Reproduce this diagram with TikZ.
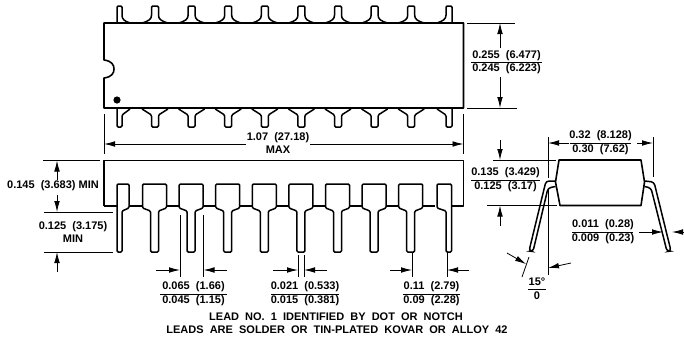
\documentclass[tikz,border=0pt]{standalone}
\usepackage{fontspec}
\setmainfont{Liberation Sans}
\usetikzlibrary{arrows.meta}

\begin{document}
\begin{tikzpicture}[
    x=1pt, y=-1pt,
    outline/.style={line width=1.6pt, line join=round},
    lead/.style={line width=1.5pt, rounded corners=1.2pt},
    dimline/.style={line width=.8pt},
    dimarrow/.style={dimline, -{Latex[length=11pt,width=5.6pt]}},
    dimtext/.style={inner sep=0pt, font=\bfseries\fontsize{11}{12}\selectfont},
    rule/.style={line width=1pt}
]
\useasboundingbox (0,0) rectangle (684,341);

% top view
\draw[outline] (104,23) -- (463.5,23) -- (463.5,108) -- (104,108) -- (104,78)
    .. controls (112,77) and (114,73) .. (114,69)
    .. controls (114,65) and (112,61) .. (104,60) -- cycle;
\fill (117,100) circle (3.6);
\draw[lead] (130,23) .. controls (124,21) and (122,19) .. (122,14) -- (122,6) -- (117,6) -- (117,23);
\draw[lead] (437,23) .. controls (443,21) and (446,19) .. (446,14) -- (446,6) -- (452,6) -- (452,23);
\draw[lead] (130,109) -- (122,115) -- (122,127) -- (117,127) -- (117,109);
\draw[lead] (437,109) -- (446,115) -- (446,127) -- (452,127) -- (452,109);
\foreach \n in {0,...,7} {
    \pgfmathsetmacro{\c}{155+36.6*\n}
    \draw[lead] (\c-13,23) .. controls (\c-6,21) and (\c-3.5,19) .. (\c-3.5,14) -- (\c-3.5,6) -- (\c+3.5,6) -- (\c+3.5,14) .. controls (\c+3.5,19) and (\c+6,21) .. (\c+13,23);
    \draw[lead] (\c-13,109) -- (\c-3.5,115) -- (\c-3.5,127) -- (\c+3.5,127) -- (\c+3.5,115) -- (\c+13,109);
}

% front view
\draw[outline] (104,206) -- (104,160.5) -- (463.5,160.5) -- (463.5,206) -- (451.5,206);
\draw[outline] (104,206) -- (117,206);
\draw[lead] (129,206) -- (129,184) -- (117,184) -- (117,252) -- (122,252) -- (122,211) -- (129,208) -- (129,206);
\draw[lead] (437,206) -- (437,184) -- (451.5,184) -- (451.5,252) -- (446,252) -- (446,211) -- (437,208) -- (437,206);
\draw[lead] (129,206) -- (142,206);
\foreach \n in {0,...,7} {
    \pgfmathsetmacro{\c}{154.5+36.6*\n}
    \draw[lead] (\c-12,206) -- (\c-12,184) -- (\c+12,184) -- (\c+12,206) -- (\c+12,208) -- (\c+4,211)
        -- (\c+4,252) -- (\c-4,252) -- (\c-4,211) -- (\c-12,208) -- cycle;
    \draw[lead] (\c+12,206) -- (\c+24.6,206);
}

% end view
\draw[outline] (559,160) -- (641,160) -- (644.5,182) -- (641,205.5) -- (560,205.5) -- (555.5,182) -- cycle;
\draw[lead, rounded corners=3pt] (555.5,181) -- (546,181) -- (529,251) -- (533,251.5) -- (548,188) -- (555.5,186.5);
\draw[lead, rounded corners=3pt] (644.5,181) -- (654,182) -- (671,251) -- (667,251.5) -- (651,188) -- (644.5,186.5);

% overall length
\draw[dimline] (104,114) -- (104,154);
\draw[dimline] (463.5,114) -- (463.5,154);
\draw[dimarrow] (246,144) -- (104,144);
\draw[dimarrow] (310,144) -- (463.5,144);
\node[dimtext] (lengthtop) at (278,138) {1.07\ \ (27.18)};
\node[dimtext] (lengthmax) at (278,149.5) {MAX};

% body width
\draw[dimline] (467,23) -- (515,23);
\draw[dimline] (467,108) -- (517,108);
\draw[dimarrow] (500,48) -- (500,23);
\draw[dimarrow] (500,77) -- (500,108);
\draw[rule] (471,62) -- (542,62);
\node[dimtext] (widthtop) at (506.5,55.5) {0.255\ \ (6.477)};
\node[dimtext] (widthbot) at (506.5,69) {0.245\ \ (6.223)};

% seating height
\draw[dimline] (43,160.5) -- (100,160.5);
\draw[dimline] (44,212) -- (113,212);
\draw[dimline] (44,252) -- (113,252);
\draw[dimarrow] (57,180) -- (57,160.5);
\draw[dimarrow] (57,195) -- (57,212);
\draw[dimarrow] (57,272) -- (57,252);
\node[dimtext] (seattext) at (53,186) {0.145\ \ (3.683) MIN};
\node[dimtext] (leadtext) at (73,227) {0.125\ \ (3.175)};
\node[dimtext] (leadmin) at (73,238.5) {MIN};

% lead dimensions
\draw[dimline] (180,215) -- (180,277);
\draw[dimline] (203.5,215) -- (203.5,277);
\draw[dimarrow] (156,270) -- (180,270);
\draw[dimarrow] (227,270) -- (203.5,270);
\draw[rule] (160,294) -- (227,294);
\node[dimtext] (padtop) at (193.5,287) {0.065\ \ (1.66)};
\node[dimtext] (padbot) at (193.5,301) {0.045\ \ (1.15)};

\draw[dimline] (298,255) -- (298,277);
\draw[dimline] (304,255) -- (304,277);
\draw[dimarrow] (273,270) -- (298,270);
\draw[dimarrow] (327,270) -- (304,270);
\draw[rule] (271,294) -- (339,294);
\node[dimtext] (stemtop) at (305,287) {0.021\ \ (0.533)};
\node[dimtext] (stembot) at (305,301) {0.015\ \ (0.381)};

\draw[dimline] (412,253) -- (412,277);
\draw[dimline] (447,253) -- (447,277);
\draw[dimarrow] (390,270) -- (412,270);
\draw[dimarrow] (469,270) -- (447,270);
\draw[rule] (403,294) -- (460,294);
\node[dimtext] (pitchtop) at (431.5,287) {0.11\ \ (2.79)};
\node[dimtext] (pitchbot) at (431.5,301) {0.09\ \ (2.28)};

% end view dimensions
\draw[dimline] (548,137) -- (548,178);
\draw[dimline] (548,190) -- (548,275);
\draw[dimline] (653,137) -- (653,177);
\draw[dimarrow] (569,143) -- (548,143);
\draw[dimarrow] (637,143) -- (653,143);
\draw[rule] (570,143) -- (631,143);
\node[dimtext] (spantop) at (600.5,136) {0.32\ \ (8.128)};
\node[dimtext] (spanbot) at (600.5,150) {0.30\ \ (7.62)};

\draw[dimline] (493,160) -- (556,160);
\draw[dimline] (487,205.5) -- (557,205.5);
\draw[dimarrow] (500,140) -- (500,160);
\draw[dimarrow] (500,226) -- (500,205.5);
\draw[rule] (471,180) -- (540,180);
\node[dimtext] (sidetop) at (505.5,173) {0.135\ \ (3.429)};
\node[dimtext] (sidebot) at (505.5,187) {0.125\ \ (3.17)};

\draw[rule] (572,232) -- (633,232);
\draw[dimarrow] (639,232) -- (663,232);
\draw[dimarrow] (684,232) -- (672,232);
\node[dimtext] (thicktop) at (603,225) {0.011\ \ (0.28)};
\node[dimtext] (thickbot) at (603,239) {0.009\ \ (0.23)};

\draw[dimline] (522,277) -- (529,257);
\draw[dimarrow] (507,253) -- (526,264);
\draw[dimarrow] (571,263) -- (548,268);
\draw[rule] (528,289) -- (546,289);
\node[dimtext] (angletop) at (537,282) {15°};
\node[dimtext] (anglebot) at (537,296) {0};

% notes
\node[dimtext] (noteone) at (336,317) {LEAD\ \ NO.\ \ 1\ \ IDENTIFIED\ \ BY\ \ DOT\ \ OR\ \ NOTCH};
\node[dimtext] (notetwo) at (337,330) {LEADS\ \ ARE\ \ SOLDER\ \ OR\ \ TIN-PLATED\ \ KOVAR\ \ OR\ \ ALLOY\ \ 42};
\end{tikzpicture}
\end{document}
